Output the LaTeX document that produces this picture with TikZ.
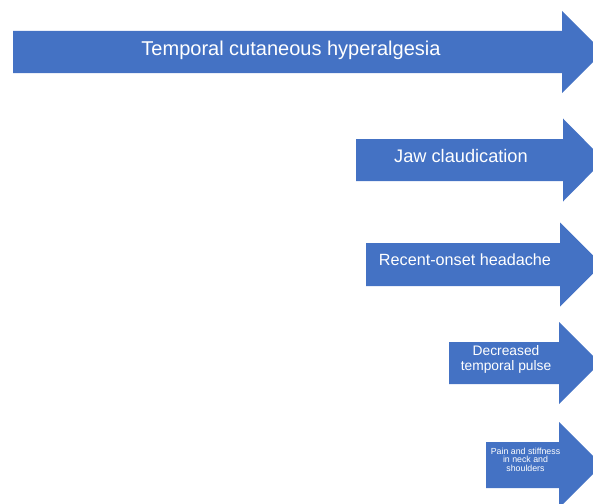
\documentclass[tikz,border=0pt]{standalone}
\usepackage{fontspec}
\setmainfont{Liberation Sans}
\definecolor{arrowblue}{HTML}{4472C4}
% #1 name, #2 left, #3 top, #4 bottom, #5 head base x, #6 head half height, #7 tip x
\newcommand\myarrow[7]{%
  \pgfmathsetmacro\cy{(#3+#4)/2}%
  \fill[arrowblue] (#2,#3) -- (#5,#3) -- (#5,\cy-#6) -- (#7,\cy) -- (#5,\cy+#6)
    -- (#5,#4) -- (#2,#4) -- cycle;
  \coordinate (#1) at ({(#2+#5)/2},\cy);
}
\tikzset{
  lbl/.style={text=white, inner sep=0pt, font=#1},
  lbl/.default=\fontsize{14}{15}\selectfont
}
\begin{document}
\begin{tikzpicture}[x=1pt,y=-1pt]
\useasboundingbox (0,0) rectangle (593,503);
\clip (0,0) rectangle (593,503);
\myarrow{a1}{13}{31}{73}{562}{41}{603}
\myarrow{a2}{356}{139}{181}{563}{41.5}{604}
\myarrow{a3}{366}{243}{286}{560}{42}{602}
\myarrow{a4}{449}{342}{384}{559}{41}{600}
\myarrow{a5}{486}{442}{488}{559}{43}{602}
\node[lbl=\fontsize{20}{24}\selectfont, anchor=base] (t1) at (291,56) {Temporal cutaneous hyperalgesia};
\node[lbl=\fontsize{18.2}{22}\selectfont, anchor=base] (t2) at (461,162.7) {Jaw claudication};
\node[lbl=\fontsize{16.2}{19}\selectfont, anchor=base] (t3) at (465,265) {Recent-onset headache};
\node[lbl=\fontsize{13.8}{15}\selectfont, align=center] (t4) at (506,359) {Decreased\\temporal pulse};
\node[lbl=\fontsize{8.8}{8.6}\selectfont, align=center] (t5) at (525.5,459.8) {Pain and stiffness\\in neck and\\shoulders};
\end{tikzpicture}
\end{document}
